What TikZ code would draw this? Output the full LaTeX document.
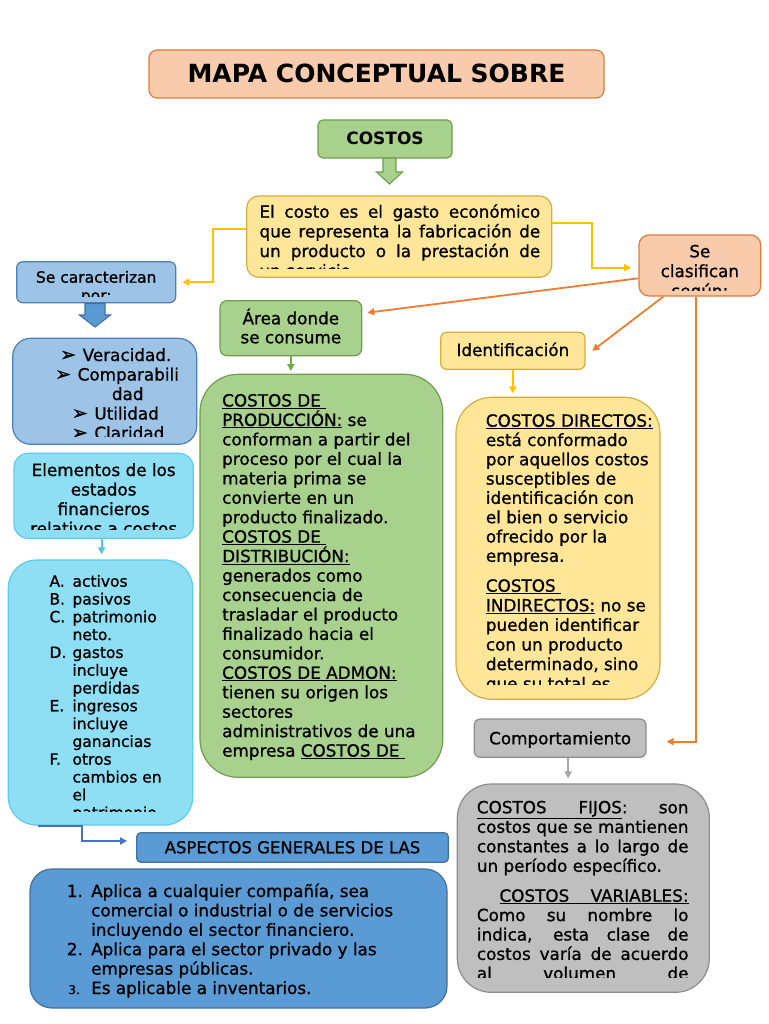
\documentclass[tikz,border=0pt]{standalone}
\usepackage{fontspec}
\setmainfont{DejaVu Sans}[UprightFeatures={FakeBold=1}]
\usetikzlibrary{arrows.meta,calc}
\definecolor{orfill}{HTML}{F8CBAD}
\definecolor{ordraw}{HTML}{E07B39}
\definecolor{grfill}{HTML}{A9D18E}
\definecolor{grdraw}{HTML}{6F9E4C}
\definecolor{yefill}{HTML}{FFE699}
\definecolor{yedraw}{HTML}{D4AE3F}
\definecolor{lbfill}{HTML}{9DC3E6}
\definecolor{lbdraw}{HTML}{4E7FB3}
\definecolor{cyfill}{HTML}{8EDFF4}
\definecolor{cydraw}{HTML}{5DCBEA}
\definecolor{mbfill}{HTML}{5B9BD5}
\definecolor{mbdraw}{HTML}{41719C}
\definecolor{gyfill}{HTML}{BFBFBF}
\definecolor{gydraw}{HTML}{8C8C8C}
\definecolor{orline}{HTML}{ED7D31}
\definecolor{yeline}{HTML}{FFC000}
\definecolor{grline}{HTML}{70AD47}
\definecolor{cyline}{HTML}{4FC6EA}
\definecolor{dbline}{HTML}{4472C4}
\definecolor{gyline}{HTML}{A5A5A5}
\newcommand\bodyfs{\fontsize{16.8}{19.5}\selectfont}
\newcommand\mkb[1]{\makebox[22.5pt][l]{#1}}
\newcommand\mkl[1]{\makebox[23pt][l]{#1}}
\newcommand\mkn[1]{\makebox[24.3pt][l]{#1}}
\begin{document}
\begin{tikzpicture}[x=1pt,y=-1pt,every node/.style={inner sep=0pt}]
\tikzset{
  panel/.style={draw, line width=1.2pt, rounded corners=#1},
  panel/.default=7pt,
  tx/.style={anchor=base west},
  tc/.style={anchor=base},
  conn/.style={line width=1.8pt, -{Triangle[length=7pt,width=7pt]}},
  blockarrow/.style={line width=1.1pt, line join=miter}
}
\useasboundingbox (0,0) rectangle (768,1024);
\fill[white] (0,0) rectangle (768,1024);

% ---------- boxes ----------
\node[panel=8pt, fill=orfill, draw=ordraw, minimum width=455, minimum height=48] (title) at (376.5,74) {};
\node[panel=5pt, fill=grfill, draw=grdraw, minimum width=134, minimum height=38] (costos) at (385,139) {};
\node[panel=12pt, fill=yefill, draw=yedraw, minimum width=305, minimum height=81.3] (def) at (399.2,236.65) {};
\node[panel=10pt, fill=orfill, draw=ordraw, minimum width=121.7, minimum height=61] (cla) at (699.85,265.5) {};
\node[panel=6pt, fill=lbfill, draw=lbdraw, minimum width=159, minimum height=41] (car) at (96.2,282.2) {};
\node[panel=18pt, fill=lbfill, draw=lbdraw, minimum width=184, minimum height=106] (ver) at (104.7,391.3) {};
\node[panel=14pt, fill=cyfill, draw=cydraw, minimum width=179.3, minimum height=85] (elem) at (103.65,495.8) {};
\node[panel=28pt, fill=cyfill, draw=cydraw, minimum width=184.4, minimum height=265] (list) at (100.5,692.5) {};
\node[panel=4pt, fill=mbfill, draw=mbdraw, minimum width=311.6, minimum height=29.6] (asp) at (292.5,847.5) {};
\node[panel=22pt, fill=mbfill, draw=mbdraw, minimum width=417, minimum height=139] (blu) at (238.5,938.5) {};
\node[panel=7pt, fill=grfill, draw=grdraw, minimum width=141.7, minimum height=55] (area) at (290.85,328.2) {};
\node[panel=38pt, fill=grfill, draw=grdraw, minimum width=242.7, minimum height=403] (gbig) at (321.35,575.8) {};
\node[panel=6pt, fill=yefill, draw=yedraw, minimum width=144.3, minimum height=37] (ident) at (512.85,350.8) {};
\node[panel=36pt, fill=yefill, draw=yedraw, minimum width=204, minimum height=302] (ybig) at (558,548.3) {};
\node[panel=6pt, fill=gyfill, draw=gydraw, minimum width=171.7, minimum height=38.3] (comp) at (560.15,738.15) {};
\node[panel=34pt, fill=gyfill, draw=gydraw, minimum width=252, minimum height=208.3] (gray) at (583.3,888.15) {};

% ---------- block arrows ----------
\draw[blockarrow, draw=grdraw, fill=grfill] (383,158)--(396,158)--(396,172)--(402.5,172)--(389.5,184)--(376.5,172)--(383,172)--cycle;
\draw[blockarrow, draw=mbdraw, fill=mbfill] (85,303.5)--(105,303.5)--(105,315)--(110.5,315)--(95,327)--(79.5,315)--(85,315)--cycle;

% ---------- single-line texts ----------
\node[tc, font=\fontsize{25}{30}\selectfont\bfseries] (ttitle) at (376.5,82.5) {MAPA CONCEPTUAL SOBRE};
\node[tc, font=\fontsize{17}{20}\selectfont\bfseries] (tcostos) at (385,145) {COSTOS};
\node[tc, font=\bodyfs] (tident) at (512.85,356) {Identificación};
\node[tc, font=\bodyfs] (tcomp) at (560.15,744.3) {Comportamiento};
\node[tc, font=\fontsize{16.5}{19.5}\selectfont] (tasp) at (292.5,853.3) {ASPECTOS GENERALES DE LAS};
\node[tc] (tarea) at (290.85,324.3) {\begin{minipage}[t]{140pt}\centering\fontsize{16.8}{19}\selectfont
Área donde\\se consume\end{minipage}};

% ---------- clipped texts ----------
\begin{scope}
\clip (247,197) rectangle (552,268.5);
\node[tx] (tdef) at (259.3,217.7) {\begin{minipage}[t]{290pt}\fontsize{16.8}{19.7}\selectfont
\makebox[280.7pt][s]{El costo es el gasto económico}\\
\makebox[280.7pt][s]{que representa la fabricación de}\\
\makebox[280.7pt][s]{un producto o la prestación de}\\
un servicio.\end{minipage}};
\end{scope}

\begin{scope}
\clip (640,236) rectangle (760,290);
\node[tc] (tcla) at (699.85,257.3) {\begin{minipage}[t]{118pt}\centering\fontsize{16.8}{19.8}\selectfont
Se\\clasifican\\según:\end{minipage}};
\end{scope}

\begin{scope}
\clip (17,262) rectangle (175,296);
\node[tc] (tcar) at (96.2,282.7) {\begin{minipage}[t]{155pt}\centering\fontsize{15.5}{18.3}\selectfont
Se caracterizan\\por:\end{minipage}};
\end{scope}

\begin{scope}
\clip (13,339) rectangle (196,436.7);
\node[tx] (tver) at (55,361) {\begin{minipage}[t]{150pt}\bodyfs
\hspace*{5pt}\mkb{\fontsize{19}{19}\selectfont ➢}Veracidad.\\
\mkb{\fontsize{19}{19}\selectfont ➢}Comparabili\\
\hspace*{56.7pt}dad\\
\hspace*{16.7pt}\mkb{\fontsize{19}{19}\selectfont ➢}Utilidad\\
\hspace*{16.7pt}\mkb{\fontsize{19}{19}\selectfont ➢}Claridad\end{minipage}};
\end{scope}

\begin{scope}
\clip (15,454) rectangle (193,529);
\node[tc] (telem) at (103.65,476) {\begin{minipage}[t]{175pt}\centering\bodyfs
Elementos de los\\estados\\financieros\\relativos a costos\end{minipage}};
\end{scope}

\begin{scope}
\clip (9,561) rectangle (192,811);
\node[tx] (tlist) at (49.3,586.7) {\begin{minipage}[t]{150pt}\fontsize{15.5}{17.8}\selectfont
\mkl{A.}activos\\
\mkl{B.}pasivos\\
\mkl{C.}patrimonio\\
\hspace*{23pt}neto.\\
\mkl{D.}gastos\\
\hspace*{23pt}incluye\\
\hspace*{23pt}perdidas\\
\mkl{E.}ingresos\\
\hspace*{23pt}incluye\\
\hspace*{23pt}ganancias\\
\mkl{F.}otros\\
\hspace*{23pt}cambios en\\
\hspace*{23pt}el\\
\hspace*{23pt}patrimonio\end{minipage}};
\end{scope}

\node[tx] (tgbig) at (222,406.5) {\begin{minipage}[t]{215pt}\fontsize{16.8}{19.45}\selectfont
\underline{COSTOS DE }\\
\underline{PRODUCCIÓN:} se\\
conforman a partir del\\
proceso por el cual la\\
materia prima se\\
convierte en un\\
producto finalizado.\\
\underline{COSTOS DE }\\
\underline{DISTRIBUCIÓN:}\\
generados como\\
consecuencia de\\
trasladar el producto\\
finalizado hacia el\\
consumidor.\\
\underline{COSTOS DE ADMON:}\\
tienen su origen los\\
sectores\\
administrativos de una\\
empresa \underline{COSTOS DE }\end{minipage}};

\begin{scope}
\clip (457,398) rectangle (659,684);
\node[tx] (tyb1) at (485.7,426.7) {\begin{minipage}[t]{170pt}\fontsize{16.8}{19.3}\selectfont
\underline{COSTOS DIRECTOS:}\\
está conformado\\
por aquellos costos\\
susceptibles de\\
identificación con\\
el bien o servicio\\
ofrecido por la\\
empresa.\end{minipage}};
\node[tx] (tyb2) at (485.7,591.7) {\begin{minipage}[t]{170pt}\fontsize{16.8}{19.6}\selectfont
\underline{COSTOS }\\
\underline{INDIRECTOS:} no se\\
pueden identificar\\
con un producto\\
determinado, sino\\
que su total es\end{minipage}};
\end{scope}

\begin{scope}
\clip (458,785) rectangle (708,977);
\node[tx] (tgy1) at (476.7,813.3) {\begin{minipage}[t]{215pt}\fontsize{16.8}{19.5}\selectfont
\makebox[211.6pt][s]{\underline{\makebox[145pt][s]{COSTOS FIJOS}}: son}\\
\makebox[211.6pt][s]{costos que se mantienen}\\
\makebox[211.6pt][s]{constantes a lo largo de}\\
un período específico.\end{minipage}};
\node[tx] (tgy2) at (476.7,901.7) {\begin{minipage}[t]{215pt}\fontsize{16.8}{19.4}\selectfont
\hspace*{22.6pt}\underline{\makebox[189pt][s]{COSTOS VARIABLES:}}\\
\makebox[211.6pt][s]{Como su nombre lo}\\
\makebox[211.6pt][s]{indica, esta clase de}\\
\makebox[211.6pt][s]{costos varía de acuerdo}\\
\makebox[211.6pt][s]{al volumen de}\end{minipage}};
\end{scope}

\node[tx] (tblu) at (66.7,897) {\begin{minipage}[t]{380pt}\fontsize{16.8}{19.4}\selectfont
\mkn{1.}Aplica a cualquier compañía, sea\\
\hspace*{24.3pt}comercial o industrial o de servicios\\
\hspace*{24.3pt}incluyendo el sector financiero.\\
\mkn{2.}Aplica para el sector privado y las\\
\hspace*{24.3pt}empresas públicas.\\
\mkn{\hspace*{1.5pt}\fontsize{12}{12}\selectfont 3.}Es aplicable a inventarios.\end{minipage}};

% ---------- connectors ----------
\coordinate (yl) at (213.3,282.2);
\coordinate (yr) at (592.3,267.7);
\draw[conn, yeline] ([yshift=7.4pt]def.west) -| (yl) -- ([xshift=6pt]car.east);
\draw[conn, yeline] ([yshift=13.9pt]def.east) -| (yr) -- ([xshift=-7.3pt,yshift=-2.2pt]cla.west);
\draw[conn, orline] ([yshift=-12.8pt]cla.west) -- ([xshift=5pt,yshift=15.5pt]area.east);
\draw[conn, orline] ([xshift=-36.5pt]cla.south) -- ([xshift=6.7pt]ident.east);
\draw[conn, orline] ([xshift=-4.2pt]cla.south) |- ([xshift=20pt,yshift=-3.5pt]comp.east);
\draw[conn, grline, shorten >=2.6pt] (area.south) -- (area.south |- gbig.north);
\draw[conn, yeline, shorten >=3.3pt] (ident.south) -- (ident.south |- ybig.north);
\path ([xshift=8pt]comp.south) coordinate (gs);
\draw[conn, gyline, shorten >=5pt] (gs) -- (gs |- gray.north);
\path ([xshift=-2pt]elem.south) coordinate (cs);
\draw[conn, cyline, shorten >=5pt] (cs) -- (cs |- list.north);
\draw[conn, dbline] ([xshift=-62.5pt]list.south) -- ([xshift=-18.5pt]list.south) |- ([xshift=-9pt,yshift=6.5pt]asp.west);
\end{tikzpicture}
\end{document}
